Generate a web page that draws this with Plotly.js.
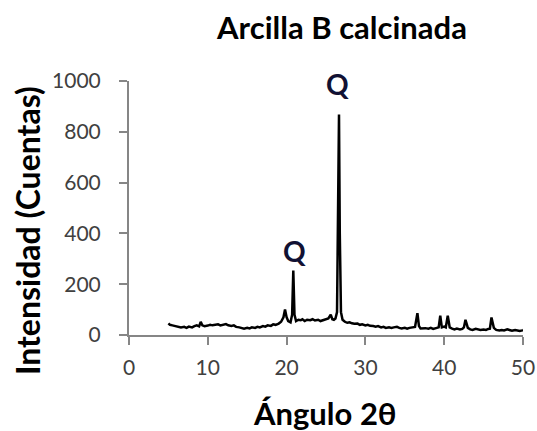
<!DOCTYPE html>
<html>
<head>
<meta charset="utf-8">
<script src="https://cdn.plot.ly/plotly-3.0.1.min.js"></script>
<style>html,body{margin:0;padding:0;background:#fff;}#chart{width:537px;height:431px;}</style>
</head>
<body>
<div id="chart"></div>
<script>
var angle = [5.0,5.2,5.5,5.8,6.0,6.3,6.6,7.0,7.3,7.6,8.0,8.3,8.6,8.9,9.1,9.3,9.6,10.0,10.3,10.6,11.0,11.3,11.6,12.0,12.3,12.6,13.0,13.3,13.6,14.0,14.3,14.6,15.0,15.3,15.6,16.0,16.3,16.6,17.0,17.3,17.6,18.0,18.3,18.6,19.0,19.3,19.6,19.8,20.0,20.2,20.5,20.7,20.85,21.0,21.2,21.5,21.8,22.0,22.3,22.6,23.0,23.3,23.6,24.0,24.3,24.6,25.0,25.3,25.6,25.8,26.0,26.2,26.4,26.55,26.65,26.75,26.9,27.1,27.4,27.7,28.0,28.3,28.6,29.0,29.3,29.6,30.0,30.3,30.6,31.0,31.3,31.6,32.0,32.3,32.6,33.0,33.3,33.6,34.0,34.3,34.6,35.0,35.3,35.6,36.0,36.3,36.6,36.8,37.0,37.3,37.6,38.0,38.3,38.6,39.0,39.3,39.5,39.7,40.0,40.2,40.45,40.7,41.0,41.3,41.6,42.0,42.3,42.5,42.7,43.0,43.3,43.6,44.0,44.3,44.6,45.0,45.3,45.6,45.8,46.0,46.3,46.6,47.0,47.3,47.6,48.0,48.3,48.6,49.0,49.3,49.6,49.9,50.0];
var intensity = [46,40,38,35,36,33,30,32,28,33,30,35,38,34,52,38,35,37,40,38,40,42,38,40,43,38,36,38,32,30,28,25,28,26,30,28,32,30,35,33,38,36,42,40,45,52,70,100,70,55,50,80,254,80,55,60,58,62,55,60,58,62,57,60,55,58,62,65,80,62,60,65,90,500,868,400,90,60,52,48,50,46,44,45,40,42,38,40,36,35,33,35,30,32,28,30,28,30,32,28,26,28,25,28,30,32,86,35,26,28,27,25,28,24,26,30,76,30,33,30,76,30,25,22,25,22,24,30,60,28,22,20,24,22,20,22,20,24,25,69,28,20,18,20,18,22,19,17,20,18,16,18,20,122];
var xTicks = [0,10,20,30,40,50];
var yTicks = [0,200,400,600,800,1000];
var peakLabels = ["Q","Q"];
var peakX = [26.44,21.0];
var peakY = [990,332];

var axisColor = '#868686';
var fam = 'Lato, "Open Sans", sans-serif';
var tickFont = {family:fam, size:21, color:'#404040'};
var titleFont = {family:fam, size:31, color:'#000', weight:'bold'};

var trace = {
  x: angle, y: intensity, type:'scatter', mode:'lines',
  line:{color:'#000', width:2.5}, hoverinfo:'skip', showlegend:false
};

var annotations = peakLabels.map(function(t,i){
  return {x:peakX[i], y:peakY[i], xref:'x', yref:'y', text:'<b>'+t+'</b>', showarrow:false,
    font:{family:fam, size:28, color:'#111133'}};
});
// axis titles placed as annotations in paper space
annotations.push({text:'<b>Ángulo 2θ</b>', xref:'paper', yref:'paper', x:(325-129)/394, y:-(413-335)/254,
  xanchor:'center', yanchor:'middle', showarrow:false, font:titleFont});
annotations.push({text:'<b>Intensidad (Cuentas)</b>', xref:'paper', yref:'paper', x:-(129-27)/394, y:(335-231)/254,
  xanchor:'center', yanchor:'middle', textangle:-90, showarrow:false, font:{family:fam, size:32, color:'#000', weight:'bold'}});

var layout = {
  width:537, height:431,
  margin:{l:129, r:14, t:81, b:96},
  paper_bgcolor:'#fff', plot_bgcolor:'#fff',
  title:{text:'<b>Arcilla B calcinada</b>', x:342/537, xanchor:'center', y:1-28/431, yanchor:'middle', yref:'container', font:titleFont},
  xaxis:{range:[0,50], tickvals:xTicks, ticktext:xTicks.map(String), showgrid:false, zeroline:false,
    showline:true, linecolor:axisColor, linewidth:2, ticks:'outside', ticklen:8, tickwidth:2, tickcolor:axisColor,
    tickfont:tickFont, ticklabelstandoff:5},
  yaxis:{range:[0,1000], tickvals:yTicks, ticktext:yTicks.map(String), showgrid:false, zeroline:false,
    showline:true, linecolor:axisColor, linewidth:2, ticks:'outside', ticklen:8, tickwidth:2, tickcolor:axisColor,
    tickfont:tickFont, ticklabelstandoff:14},
  annotations: annotations
};

Plotly.newPlot('chart',[trace],layout,{staticPlot:true,displayModeBar:false});
</script>
</body>
</html>
